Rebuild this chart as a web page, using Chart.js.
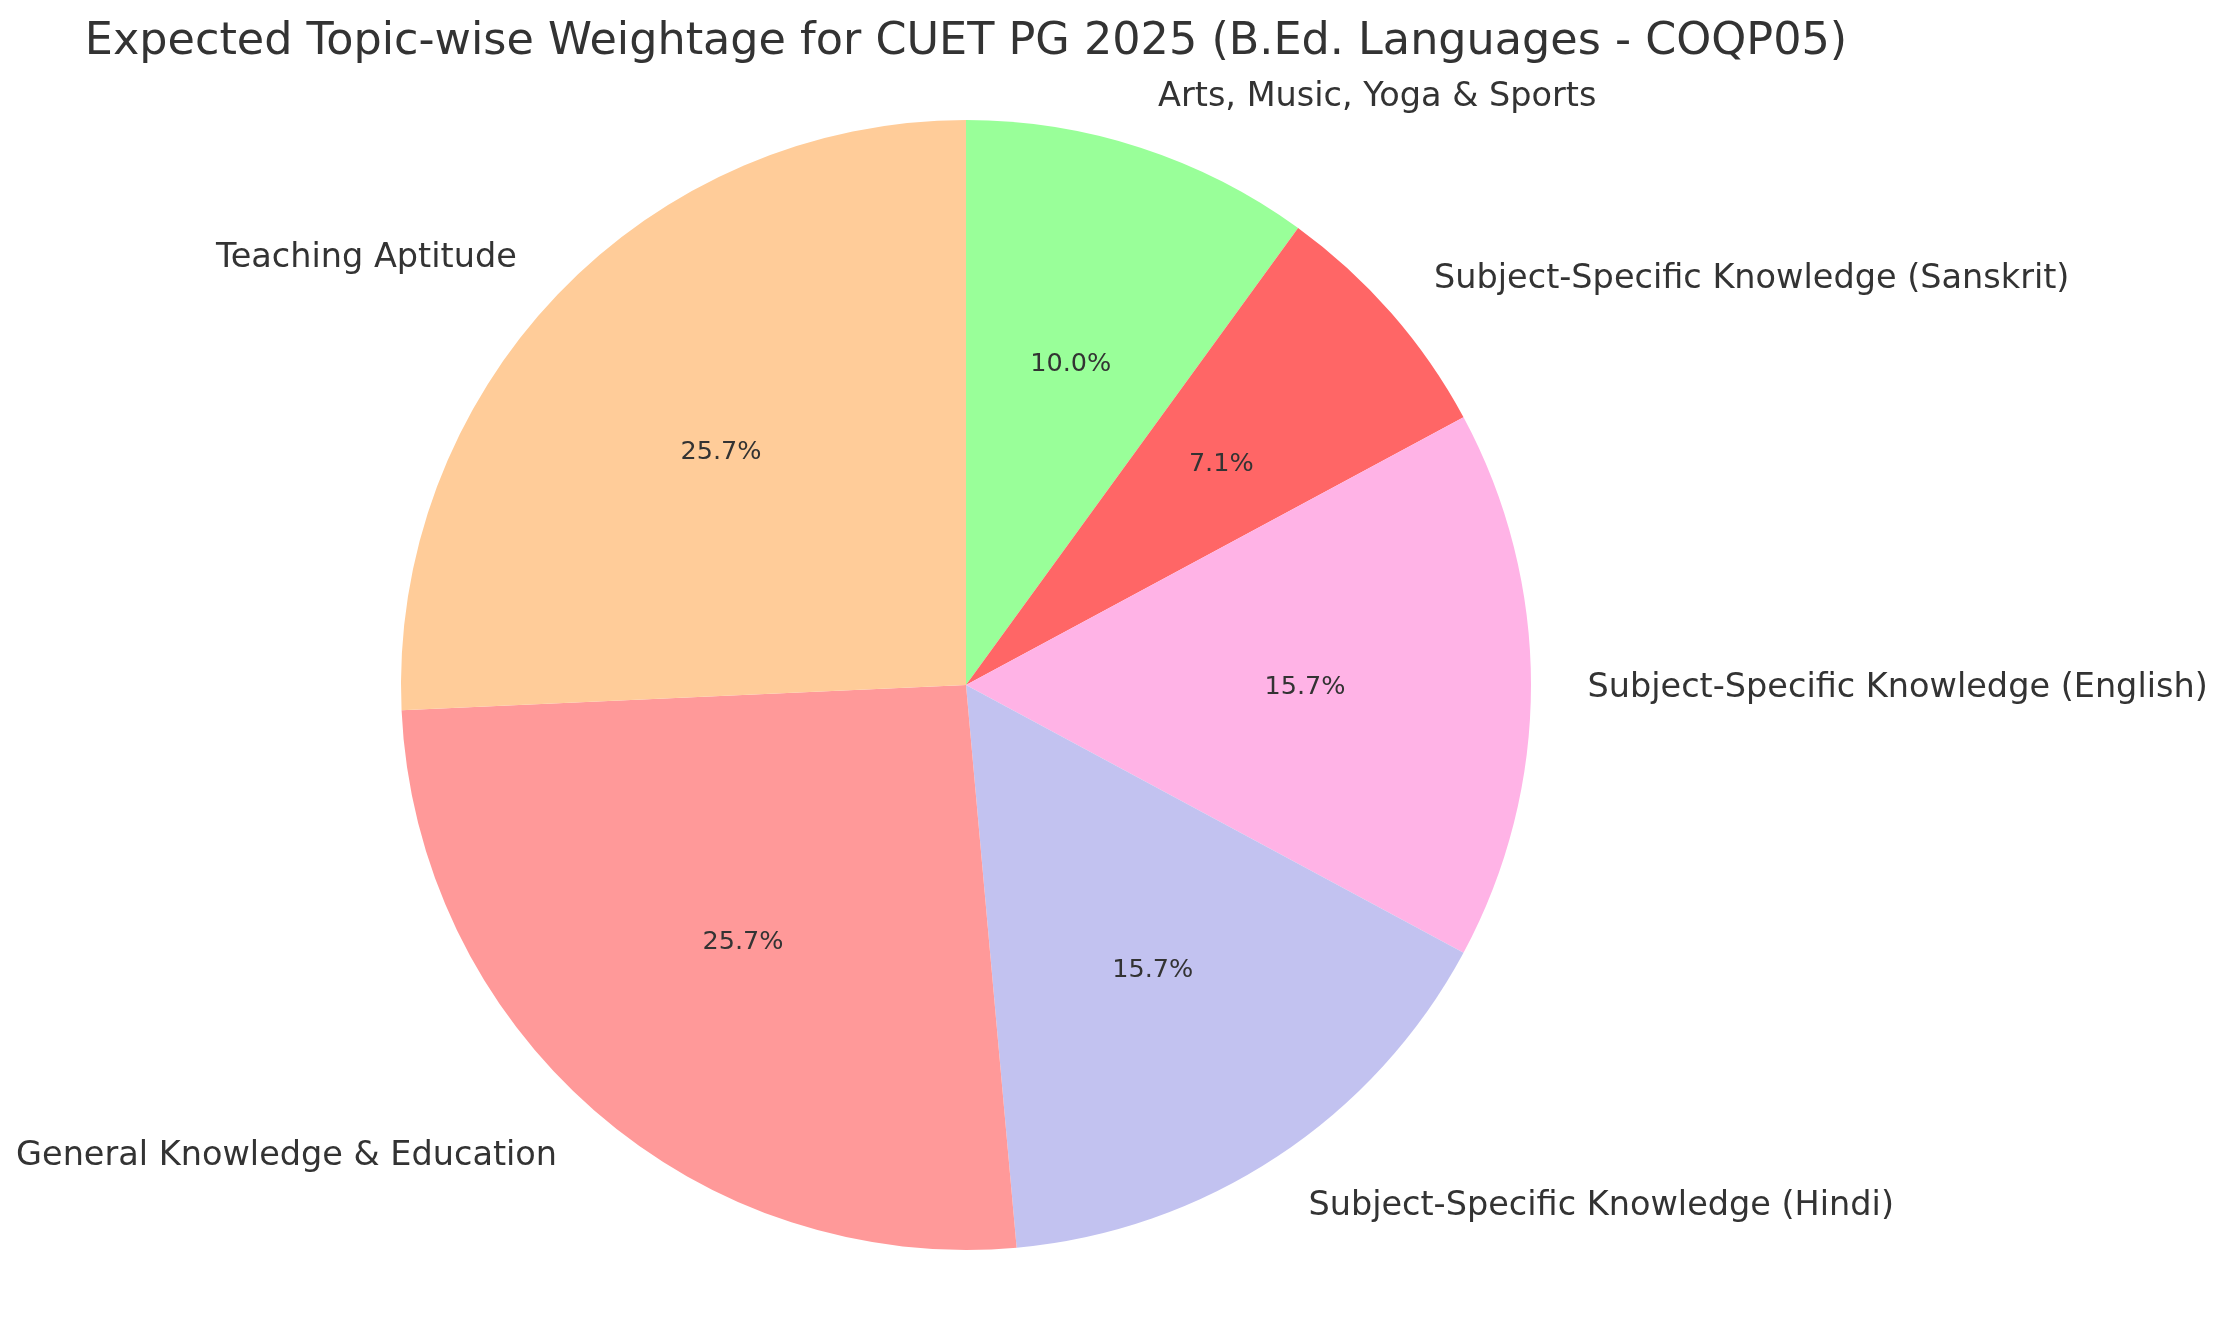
<!DOCTYPE html>
<html><head><meta charset="utf-8">
<script src="https://cdn.jsdelivr.net/npm/chart.js@4/dist/chart.umd.min.js"></script>
<style>html,body{margin:0;padding:0;background:#fff}#w{width:2224px;height:1322px}</style>
</head><body><div id="w"><canvas id="c"></canvas></div>
<script>
const chartTitle = "Expected Topic-wise Weightage for CUET PG 2025 (B.Ed. Languages - COQP05)";
// clockwise order from top (matplotlib draws counter-clockwise)
const categories = ["Arts, Music, Yoga & Sports","Subject-Specific Knowledge (Sanskrit)","Subject-Specific Knowledge (English)","Subject-Specific Knowledge (Hindi)","General Knowledge & Education","Teaching Aptitude"];
const values = [7, 5, 11, 11, 18, 18];
const colors = ["#99ff99","#ff6666","#ffb3e6","#c2c2f0","#ff9999","#ffcc99"];

const total = values.reduce((a,b)=>a+b,0);
const labelPlugin = {
  id:'lbl',
  afterDraw(chart){
    const ctx = chart.ctx;
    ctx.save();
    ctx.fillStyle = '#333';
    ctx.font = '44.5px "DejaVu Sans"';
    ctx.textAlign = 'center'; ctx.textBaseline = 'middle';
    ctx.fillText(chartTitle, 966, 42);
    chart.getDatasetMeta(0).data.forEach((arc,i)=>{
      const mid = (arc.startAngle+arc.endAngle)/2;
      const r = arc.outerRadius;
      const cx = Math.cos(mid), cy = Math.sin(mid);
      ctx.font = '25.5px "DejaVu Sans"';
      ctx.textAlign = 'center';
      ctx.fillText((values[i]/total*100).toFixed(1)+'%', arc.x+cx*r*0.6, arc.y+cy*r*0.6 + 2);
      ctx.font = '33.5px "DejaVu Sans"';
      ctx.textAlign = cx >= 0 ? 'left' : 'right';
      ctx.fillText(categories[i], arc.x+cx*r*1.1, arc.y+cy*r*1.1 + 3);
    });
    ctx.restore();
  }
};
new Chart(document.getElementById('c'), {
  type:'pie',
  data:{labels:categories, datasets:[{data:values, backgroundColor:colors, borderWidth:0}]},
  options:{
    responsive:true, maintainAspectRatio:false, animation:false,
    layout:{padding:{left:401,right:693,top:120,bottom:72}},
    plugins:{legend:{display:false}, tooltip:{enabled:false}}
  },
  plugins:[labelPlugin]
});
</script></body></html>
